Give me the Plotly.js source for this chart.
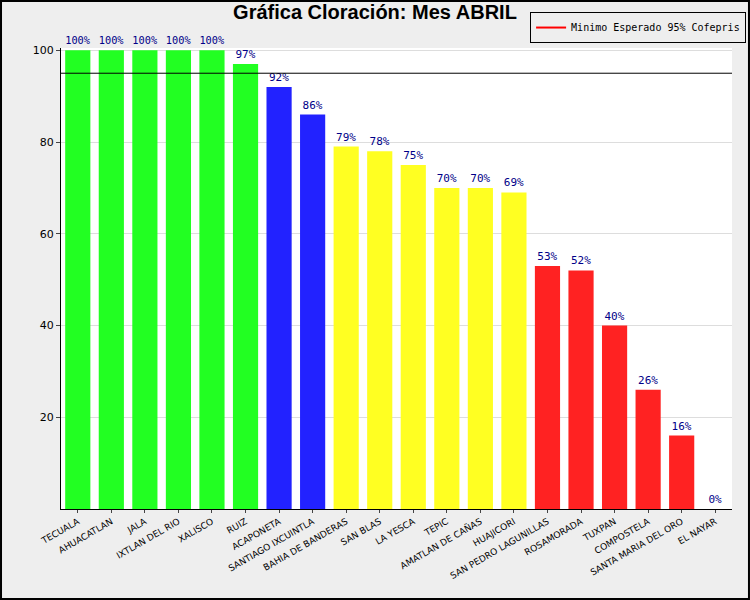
<!DOCTYPE html>
<html>
<head>
<meta charset="utf-8">
<script src="https://cdn.plot.ly/plotly-3.0.1.min.js"></script>
<style>body{margin:0;} #chart{width:750px;height:600px;}</style>
</head>
<body>
<div id="chart"></div>
<script>
var municipios = ['TECUALA', 'AHUACATLAN', 'JALA', 'IXTLAN DEL RIO', 'XALISCO', 'RUIZ', 'ACAPONETA',
  'SANTIAGO IXCUINTLA', 'BAHIA DE BANDERAS', 'SAN BLAS', 'LA YESCA', 'TEPIC', 'AMATLAN DE CAÑAS',
  'HUAJICORI', 'SAN PEDRO LAGUNILLAS', 'ROSAMORADA', 'TUXPAN', 'COMPOSTELA', 'SANTA MARIA DEL ORO', 'EL NAYAR'];
var cloracion = [100, 100, 100, 100, 100, 97, 92, 86, 79, 78, 75, 70, 70, 69, 53, 52, 40, 26, 16, 0];
var colores = ['#22ff22', '#22ff22', '#22ff22', '#22ff22', '#22ff22', '#22ff22', '#2222ff', '#2222ff',
  '#ffff22', '#ffff22', '#ffff22', '#ffff22', '#ffff22', '#ffff22', '#ff2222', '#ff2222', '#ff2222',
  '#ff2222', '#ff2222', '#ff2222'];
var minimo = 95;

var barras = {
  x: municipios, y: cloracion, type: 'bar', marker: {color: colores},
  text: cloracion.map(function(v) { return v + '%'; }), textposition: 'outside',
  textfont: {family: 'DejaVu Sans Mono', size: 11, color: '#000088'},
  cliponaxis: false, showlegend: false, width: 0.75
};
var linea = { // the 95% reference line
  x: [-0.5, municipios.length - 0.5], y: [minimo, minimo], xaxis: 'x2', type: 'scatter', mode: 'lines',
  line: {color: '#000', width: 1}, showlegend: false, hoverinfo: 'skip'
};
var leyenda = {
  x: [null], y: [null], type: 'scatter', mode: 'lines', name: 'Minimo Esperado 95% Cofepris',
  line: {color: '#ff0000', width: 2}
};

var layout = {
  width: 750, height: 600,
  paper_bgcolor: '#eeeeee', plot_bgcolor: '#ffffff',
  margin: {l: 61, r: 18, t: 48, b: 91, autoexpand: false},
  title: {text: '<b>Gráfica Cloración: Mes ABRIL</b>', x: 0.5, xanchor: 'center', y: 0.992, yanchor: 'top',
    font: {family: 'Liberation Sans Narrow, Liberation Sans', size: 20, color: '#000'}},
  xaxis: {tickangle: -30, tickfont: {family: 'DejaVu Sans', size: 9, color: '#000'},
    showline: true, linecolor: '#000', ticks: 'outside', ticklen: 3, showgrid: false},
  xaxis2: {overlaying: 'x', range: [-0.5, municipios.length - 0.5], visible: false},
  yaxis: {range: [0, 100.5], tickvals: [20, 40, 60, 80, 100], showline: true, linecolor: '#000',
    ticks: 'outside', ticklen: 4, gridcolor: '#dddddd', zeroline: false,
    tickfont: {family: 'DejaVu Sans', size: 11, color: '#000'}},
  legend: {x: 1.021, xanchor: 'right', y: 1.078, yanchor: 'top', bgcolor: '#eeeeee',
    bordercolor: '#000', borderwidth: 1, font: {family: 'DejaVu Sans Mono', size: 10, color: '#000'}},
  shapes: [{type: 'rect', xref: 'paper', yref: 'paper', x0: -0.0894, x1: 1.0253, y0: -0.195, y1: 1.102,
    line: {color: '#000', width: 2}}]
};

Plotly.newPlot('chart', [barras, linea, leyenda], layout, {displayModeBar: false});
</script>
</body>
</html>
